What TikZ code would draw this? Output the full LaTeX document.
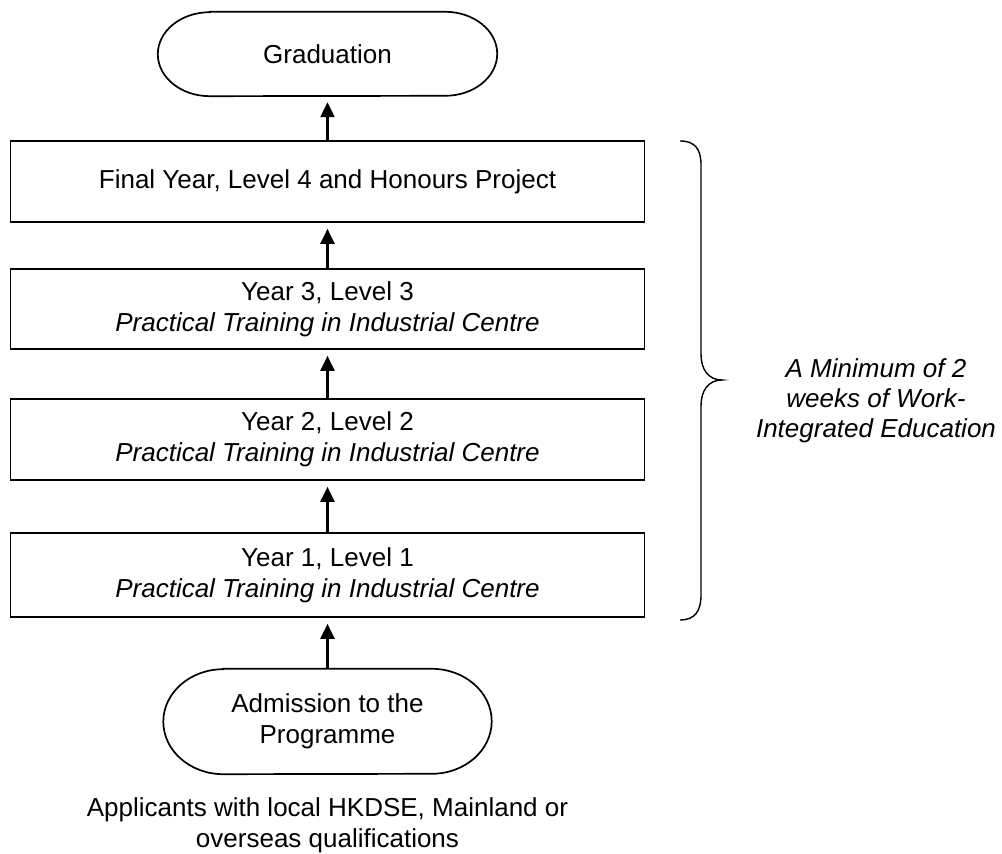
\documentclass[tikz,border=0pt]{standalone}
\usepackage{fontspec}
\setmainfont{Liberation Sans}
\usetikzlibrary{arrows.meta}
\newcommand\pilloutline[3]{%
  \draw[line width=1.7pt] ([xshift=#2]#1.north west) -- ([xshift=-#2]#1.north east)
    arc[start angle=90,end angle=-90,x radius=#2,y radius=#3]
    -- ([xshift=#2]#1.south west)
    arc[start angle=270,end angle=90,x radius=#2,y radius=#3] -- cycle;}
\begin{document}
\begin{tikzpicture}[x=1pt,y=1pt,
  every node/.style={font=\fontsize{26}{31}\selectfont, inner sep=0pt, align=center},
  stagebox/.style={draw, line width=1.7pt, minimum width=634pt},
  pillnode/.style={draw=none},
  flow/.style={line width=2.2pt, -{Triangle[length=15pt,width=14pt]}, shorten >=6pt},
  bracestyle/.style={line width=1.4pt},
  notetext/.style={font=\fontsize{26}{30}\selectfont\itshape}]
\useasboundingbox (0,0) rectangle (1002,854);

\node[pillnode, minimum width=339pt, minimum height=84pt] (grad) at (327.5,800) {Graduation};
\pilloutline{grad}{52pt}{42pt}

\node[stagebox, minimum height=81pt] (final) at (327.5,672.5) {Final Year, Level 4 and Honours Project};
\node[stagebox, minimum height=80pt] (y3) at (327.5,545) {Year 3, Level 3\\\textit{Practical Training in Industrial Centre}};
\node[stagebox, minimum height=81pt] (y2) at (327.5,414.5) {Year 2, Level 2\\\textit{Practical Training in Industrial Centre}};
\node[stagebox, minimum height=84pt] (y1) at (327.5,279) {Year 1, Level 1\\\textit{Practical Training in Industrial Centre}};

\node[pillnode, minimum width=328pt, minimum height=105pt] (adm) at (327.5,132.5) {Admission to the\\Programme};
\pilloutline{adm}{60pt}{52.5pt}

\node (appl) at (327.5,29) {Applicants with local HKDSE, Mainland or\\overseas qualifications};

\draw[flow] (final.north) -- (grad.south);
\draw[flow] (y3.north) -- (final.south);
\draw[flow] (y2.north) -- (y3.south);
\draw[flow] (y1.north) -- (y2.south);
\draw[flow] (adm.north) -- (y1.south);

\coordinate (btop) at (680,713);
\coordinate (btip) at (722,474);
\coordinate (bbot) at (680,234);
\draw[bracestyle] (btop) .. controls (695,713) and (701,705) .. (701,689) -- (701,500)
  .. controls (701,485) and (708,474) .. (btip)
  .. controls (708,474) and (701,463) .. (701,448) -- (701,259)
  .. controls (701,243) and (695,234) .. (bbot);

\node[notetext] (wie) at (876,453) {A Minimum of 2\\weeks of Work-\\Integrated Education};
\end{tikzpicture}
\end{document}
